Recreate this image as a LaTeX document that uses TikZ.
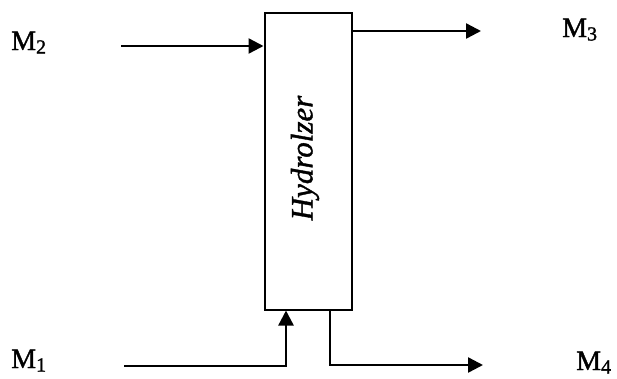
\documentclass[tikz,border=0pt]{standalone}
\usepackage{fontspec}
\setmainfont{Liberation Serif}[FakeBold=0.6]
\newfontfamily\labfont{Liberation Serif}[FakeBold=1.4]
\newfontfamily\hydfont{Liberation Serif}[UprightFont=*-Italic,FakeBold=1.2]
\usetikzlibrary{arrows.meta}
\newcommand{\msub}[1]{M\raisebox{-3.5pt}{\fontsize{20}{20}\selectfont #1}}
\begin{document}
\begin{tikzpicture}[x=1pt,y=-1pt,
  flow/.style={line width=2.4pt,-{Triangle[length=15pt,width=15pt]}},
  lbl/.style={font=\labfont\fontsize{28}{28}\selectfont,inner sep=0pt,anchor=base west}]
\useasboundingbox (0,0) rectangle (617,378);
\node[draw,line width=2pt,minimum width=87pt,minimum height=297pt,inner sep=0pt] (box) at (308,161) {};
\node[rotate=90,font=\hydfont\fontsize{31}{31}\selectfont] (htext) at (305,158) {Hydrolzer};
\node[lbl] (m2) at (11,50) {\msub{2}};
\node[lbl] (m3) at (562,37) {\msub{3}};
\node[lbl] (m1) at (11,368) {\msub{1}};
\node[lbl] (m4) at (576,370) {\msub{4}};
\coordinate (m2s) at (121,46);
\coordinate (m3t) at (481,31);
\coordinate (m1s) at (124,366);
\coordinate (m1j) at (286,0);
\coordinate (m4j) at (330,0);
\coordinate (m4t) at (483,365);
\draw[flow] (m2s) -- (m2s -| box.west);
\draw[flow] (m3t -| box.east) -- (m3t);
\draw[flow] (m1s) -| (m1j |- box.south);
\draw[flow] (m4j |- box.south) |- (m4t);
\end{tikzpicture}
\end{document}
